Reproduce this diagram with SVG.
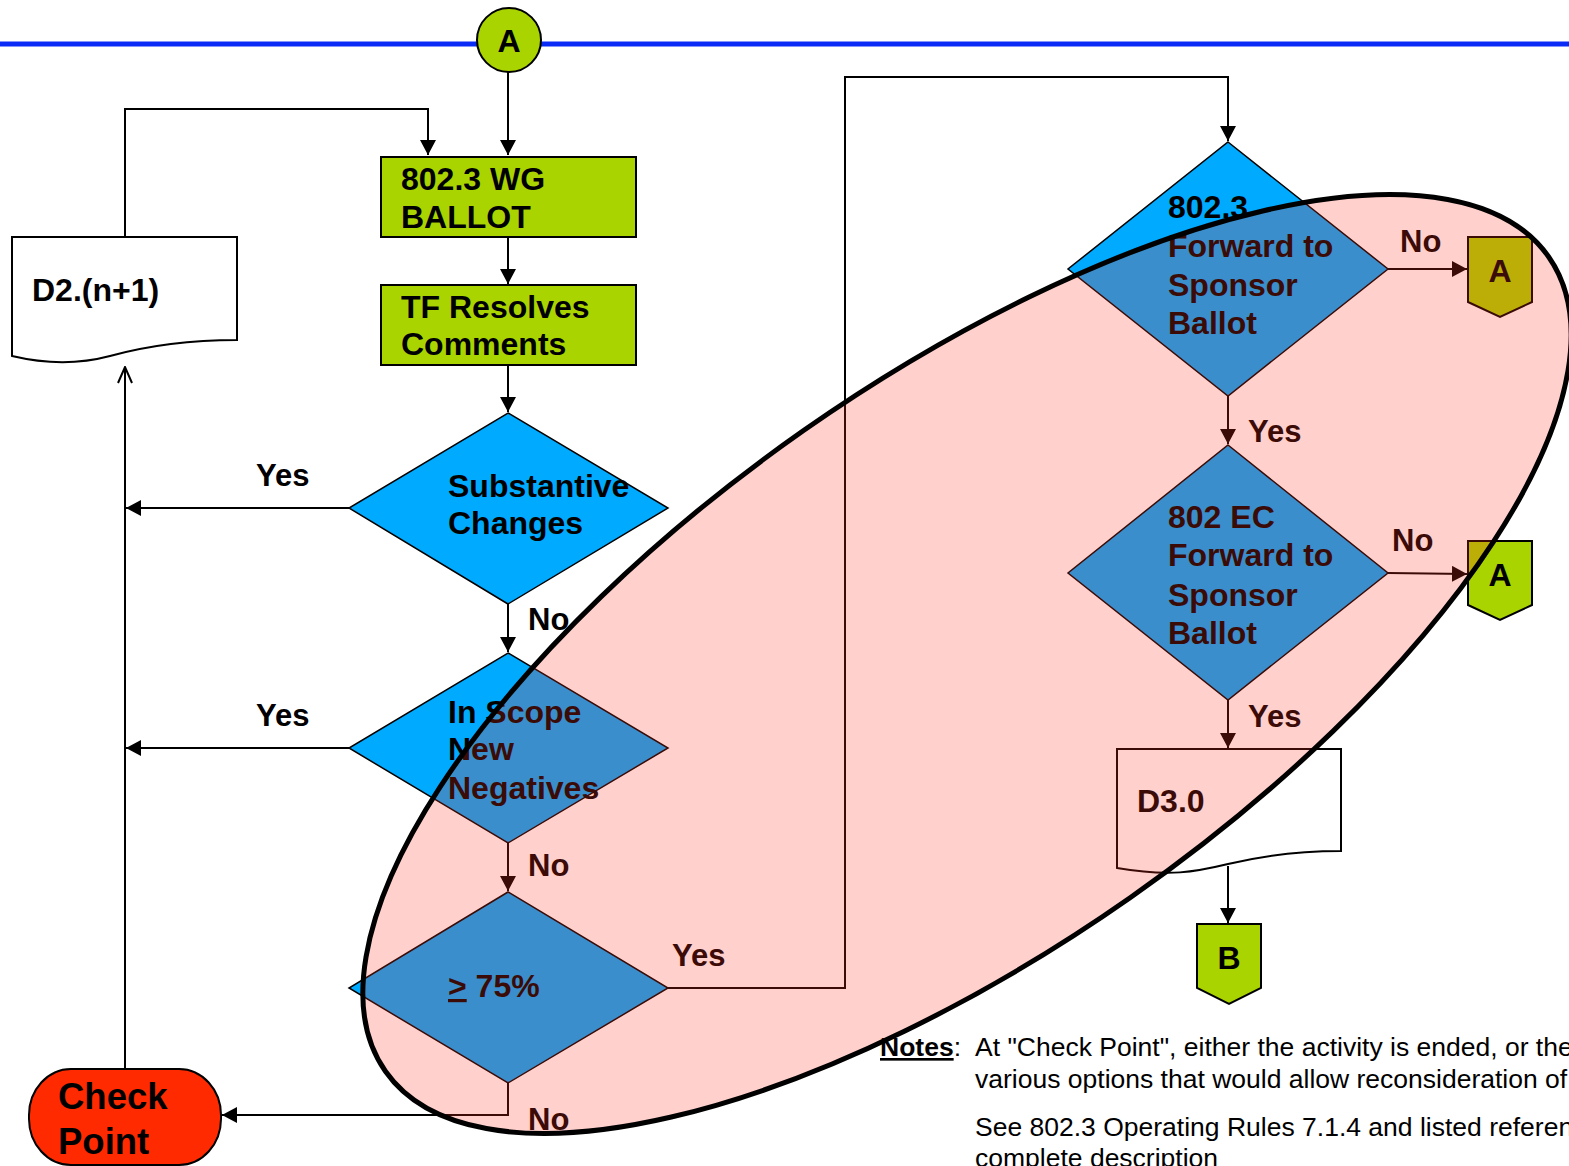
<svg xmlns="http://www.w3.org/2000/svg" width="1569" height="1166" viewBox="0 0 1569 1166">
<style>
text{font-family:"Liberation Sans",Arial,sans-serif;fill:#000}
.b{font-weight:bold;font-size:32px}
.lbl{font-weight:bold;font-size:31px}
.note{font-size:26.5px}
.green{fill:#AAD400;stroke:#000;stroke-width:2}
.dia{fill:#00AAFF;stroke:#000;stroke-width:1.5}
.doc{fill:#fff;stroke:#000;stroke-width:2}
.con{fill:none;stroke:#000;stroke-width:2}
</style>
<defs>
<marker id="arr" markerUnits="userSpaceOnUse" viewBox="0 0 15 16" refX="15" refY="8" markerWidth="15" markerHeight="16" orient="auto">
<path d="M0,0 L15,8 L0,16 z" fill="#000"/>
</marker>
<marker id="open" markerUnits="userSpaceOnUse" viewBox="0 0 18 16" refX="17" refY="8" markerWidth="18" markerHeight="16" orient="auto">
<path d="M1,1 L17,8 L1,15" fill="none" stroke="#000" stroke-width="2"/>
</marker>
</defs>
<rect width="1569" height="1166" fill="#fff"/>
<line x1="0" y1="44" x2="1569" y2="44" stroke="#0A2BF5" stroke-width="5"/>

<g id="connectors">
<path class="con" d="M508,72 V155" marker-end="url(#arr)"/>
<path class="con" d="M125,237 V109 H428 V155" marker-end="url(#arr)"/>
<path class="con" d="M508,237 V284" marker-end="url(#arr)"/>
<path class="con" d="M508,365 V412" marker-end="url(#arr)"/>
<path class="con" d="M508,604 V652" marker-end="url(#arr)"/>
<path class="con" d="M349,508 H126" marker-end="url(#arr)"/>
<path class="con" d="M349,748 H126" marker-end="url(#arr)"/>
<path class="con" d="M508,843 V891" marker-end="url(#arr)"/>
<path class="con" d="M508,1083 V1115 H222" marker-end="url(#arr)"/>
<path class="con" d="M125,1069 V367" marker-end="url(#open)"/>
<path class="con" d="M668,988 H845 V77 H1228 V141" marker-end="url(#arr)"/>
<path class="con" d="M1388,269 H1467" marker-end="url(#arr)"/>
<path class="con" d="M1228,396 V444" marker-end="url(#arr)"/>
<path class="con" d="M1388,573 L1467,574" marker-end="url(#arr)"/>
<path class="con" d="M1228,700 V748" marker-end="url(#arr)"/>
<path class="con" d="M1228,866 V923" marker-end="url(#arr)"/>
<text class="lbl" x="256" y="486">Yes</text>
<text class="lbl" x="256" y="726">Yes</text>
<text class="lbl" x="528" y="630">No</text>
<text class="lbl" x="528" y="876">No</text>
<text class="lbl" x="528" y="1130">No</text>
<text class="lbl" x="672" y="966">Yes</text>
<text class="lbl" x="1400" y="252">No</text>
<text class="lbl" x="1248" y="442">Yes</text>
<text class="lbl" x="1392" y="551">No</text>
<text class="lbl" x="1248" y="727">Yes</text>
</g>

<g id="nodeA-top">
<circle cx="509" cy="40" r="32" class="green"/>
<text class="b" x="509" y="52" text-anchor="middle">A</text>
</g>
<g id="wg-ballot">
<rect x="381" y="157" width="255" height="80" class="green"/>
<text class="b" x="401" y="190">802.3 WG</text>
<text class="b" x="401" y="228">BALLOT</text>
</g>
<g id="tf-resolves">
<rect x="381" y="285" width="255" height="80" class="green"/>
<text class="b" x="401" y="318">TF Resolves</text>
<text class="b" x="401" y="355">Comments</text>
</g>
<g id="d2-doc">
<path class="doc" d="M12,237 H237 V340 C190,340 150,345 110,356 C80,364 50,365 12,356 Z"/>
<text class="b" x="32" y="301">D2.(n+1)</text>
</g>
<g id="substantive">
<polygon class="dia" points="508,413 668,508 508,604 349,508"/>
<text class="b" x="448" y="497">Substantive</text>
<text class="b" x="448" y="534">Changes</text>
</g>
<g id="in-scope">
<polygon class="dia" points="508,653 668,748 508,843 349,748"/>
<text class="b" x="448" y="723">In Scope</text>
<text class="b" x="448" y="760">New</text>
<text class="b" x="448" y="799">Negatives</text>
</g>
<g id="pct75">
<polygon class="dia" points="508,892 668,988 508,1083 349,988"/>
<text class="b" x="448" y="997"><tspan text-decoration="underline">&gt;</tspan> 75%</text>
</g>
<g id="check-point">
<rect x="29" y="1069" width="192" height="96" rx="42" ry="46" fill="#FF2A00" stroke="#000" stroke-width="2"/>
<text x="58" y="1109" style="font-weight:bold;font-size:36.5px">Check</text>
<text x="58" y="1154" style="font-weight:bold;font-size:36.5px">Point</text>
</g>
<g id="wg-forward">
<polygon class="dia" points="1228,142 1388,269 1228,396 1068,269"/>
<text class="b" x="1168" y="218">802.3</text>
<text class="b" x="1168" y="257">Forward to</text>
<text class="b" x="1168" y="296">Sponsor</text>
<text class="b" x="1168" y="334">Ballot</text>
</g>
<g id="ec-forward">
<polygon class="dia" points="1228,445 1388,573 1228,700 1068,573"/>
<text class="b" x="1168" y="528">802 EC</text>
<text class="b" x="1168" y="566">Forward to</text>
<text class="b" x="1168" y="606">Sponsor</text>
<text class="b" x="1168" y="644">Ballot</text>
</g>
<g id="nodeA-1">
<polygon class="green" points="1468,237 1532,237 1532,302 1500,317 1468,302"/>
<text class="b" x="1500" y="282" text-anchor="middle">A</text>
</g>
<g id="nodeA-2">
<polygon class="green" points="1468,541 1532,541 1532,605 1500,620 1468,605"/>
<text class="b" x="1500" y="586" text-anchor="middle">A</text>
</g>
<g id="d3-doc">
<path class="doc" d="M1117,749 H1341 V851 C1300,851 1265,855 1228,864 C1195,872 1170,877 1117,868 Z"/>
<text class="b" x="1137" y="812">D3.0</text>
</g>
<g id="nodeB">
<polygon class="green" points="1197,924 1261,924 1261,988 1229,1004 1197,988"/>
<text class="b" x="1229" y="969" text-anchor="middle">B</text>
</g>

<g id="notes">
<text class="note" x="880" y="1056"><tspan font-weight="bold" text-decoration="underline">Notes</tspan>:</text>
<text class="note" x="975" y="1056">At "Check Point", either the activity is ended, or the</text>
<text class="note" x="975" y="1088">various options that would allow reconsideration of</text>
<text class="note" x="975" y="1136">See 802.3 Operating Rules 7.1.4 and listed references</text>
<text class="note" x="975" y="1167">complete description</text>
</g>

<g id="highlight">
<ellipse cx="967" cy="664" rx="710" ry="285" transform="rotate(-35 967 664)" fill="#FF301E" fill-opacity="0.227" stroke="#000" stroke-width="5"/>
</g>
</svg>
